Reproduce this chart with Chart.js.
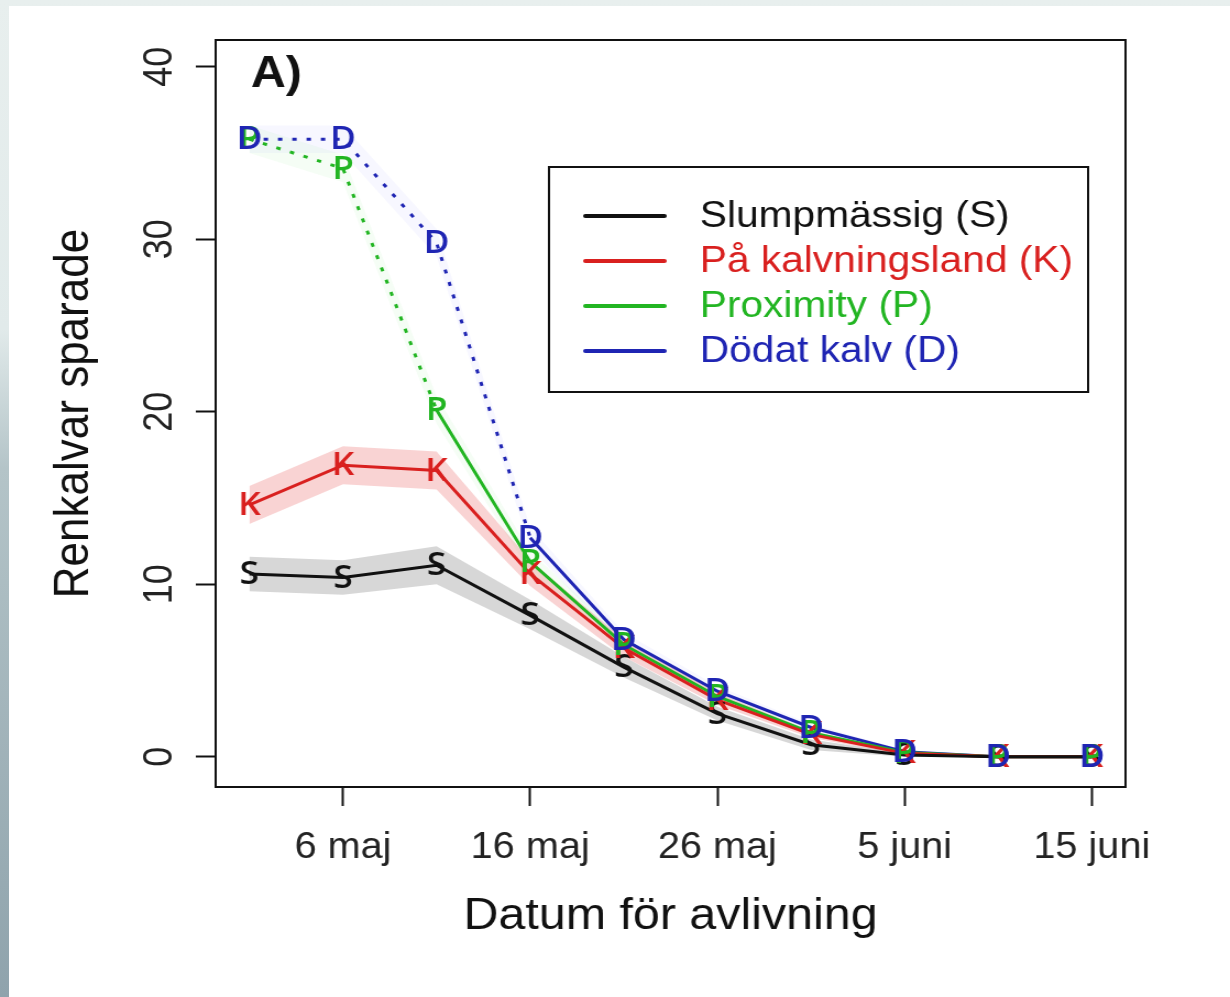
<!DOCTYPE html>
<html>
<head>
<meta charset="utf-8">
<script src="https://cdn.jsdelivr.net/npm/chart.js@4.4.1/dist/chart.umd.min.js"></script>
<style>
  html, body { margin: 0; padding: 0; width: 1230px; height: 997px; overflow: hidden; }
  body { background: linear-gradient(180deg, #e8efee 0%, #e1eaea 33%, #b4c4c8 47%, #8fa3ac 100%); }
  #paper { position: absolute; left: 9px; top: 6px; width: 1221px; height: 991px; background: #fff; }
  #chart { position: absolute; left: 0; top: 0; transform: scaleX(1.1002); transform-origin: 0 0; }
</style>
</head>
<body>
<div id="paper"></div>
<canvas id="chart" width="1118" height="997"></canvas>
<script>
// dagar efter 1 maj
const dayNums = [0, 5, 10, 15, 20, 25, 30, 35, 40, 45];
const xTickValues = [5, 15, 25, 35, 45];
const xTickLabels = ["6 maj", "16 maj", "26 maj", "5 juni", "15 juni"];
const yTickValues = [0, 10, 20, 30, 40];

// Slumpmässig (S)
const slump   = [10.6, 10.4, 11.1, 8.2, 5.2, 2.5, 0.7, 0.1, 0, 0];
const slumpLo = [9.6, 9.4, 10.0, 7.4, 4.6, 2.1, 0.4, 0, 0, 0];
const slumpHi = [11.6, 11.4, 12.2, 9.1, 5.8, 2.9, 1.0, 0.2, 0, 0];
// På kalvningsland (K)
const kalv   = [14.6, 16.9, 16.6, 10.6, 6.3, 3.3, 1.3, 0.2, 0, 0];
const kalvLo = [13.5, 15.8, 15.5, 9.9, 5.8, 3.0, 1.1, 0.1, 0, 0];
const kalvHi = [15.7, 18.0, 17.7, 11.4, 6.8, 3.7, 1.5, 0.3, 0, 0];
// Proximity (P)
const prox   = [35.8, 34.1, 20.1, 11.3, 6.5, 3.5, 1.4, 0.25, 0, 0];
const proxLo = [35.0, 33.3, 19.3, 10.7, 6.1, 3.2, 1.2, 0.15, 0, 0];
const proxHi = [36.6, 34.9, 20.9, 11.9, 6.9, 3.8, 1.6, 0.35, 0, 0];
// Dödat kalv (D)
const dodat   = [35.8, 35.8, 29.8, 12.7, 6.8, 3.8, 1.7, 0.3, 0, 0];
const dodatLo = [35.0, 35.0, 29.0, 12.1, 6.4, 3.5, 1.5, 0.2, 0, 0];
const dodatHi = [36.6, 36.6, 30.6, 13.3, 7.2, 4.1, 1.9, 0.4, 0, 0];

const seriesNames = ["Slumpmässig (S)", "På kalvningsland (K)", "Proximity (P)", "Dödat kalv (D)"];
const seriesLetters = ["S", "K", "P", "D"];
const seriesColors = ["#111111", "#d9201f", "#22b522", "#1f25b3"];
const bandColors = ["rgba(150,150,150,0.38)", "rgba(235,110,110,0.30)", "rgba(120,220,120,0.07)", "rgba(120,120,255,0.06)"];
const dottedSegs = [0, 0, 2, 3];  // antal prickade segment i början

const values = [slump, kalv, prox, dodat];
const lows = [slumpLo, kalvLo, proxLo, dodatLo];
const highs = [slumpHi, kalvHi, proxHi, dodatHi];

function pts(arr) {
  return arr.map((v, i) => ({ x: dayNums[i], y: v }));
}

const datasets = [];
values.forEach((vals, s) => {
  datasets.push({ data: pts(lows[s]), borderWidth: 0, pointRadius: 0, fill: false, order: 5 });
  datasets.push({ data: pts(highs[s]), borderWidth: 0, pointRadius: 0, fill: "-1", backgroundColor: bandColors[s], order: 5 });
});
values.forEach((vals, s) => {
  const n = dottedSegs[s];
  datasets.push({
    label: seriesNames[s],
    letter: seriesLetters[s],
    data: pts(vals),
    borderColor: seriesColors[s],
    borderWidth: 3,
    pointRadius: 0,
    tension: 0,
    fill: false,
    order: 1,
    segment: { borderDash: c => (c.p0DataIndex < n ? [4, 9] : undefined) }
  });
});

const FONT = "'Liberation Sans', Arial, sans-serif";

const rPlot = {
  id: "rPlot",
  afterDraw(chart) {
    const ctx = chart.ctx;
    const a = chart.chartArea;
    ctx.save();
    // bokstäver vid punkterna
    ctx.font = "600 32px 'Open Sans', sans-serif";
    ctx.textAlign = "center";
    ctx.textBaseline = "middle";
    chart.data.datasets.forEach((ds, i) => {
      if (!ds.letter) return;
      ctx.fillStyle = ds.borderColor;
      chart.getDatasetMeta(i).data.forEach(p => ctx.fillText(ds.letter, p.x, p.y + 1));
    });
    // ram
    ctx.strokeStyle = "#111";
    ctx.lineWidth = 2;
    ctx.strokeRect(a.left, a.top, a.right - a.left, a.bottom - a.top);
    // panel-etikett
    ctx.fillStyle = "#111";
    ctx.font = "bold 44px " + FONT;
    ctx.textAlign = "left";
    ctx.textBaseline = "alphabetic";
    ctx.fillText("A)", 228, 87);
    // förklaring
    const bx = 499, by = 167, bw = 490, bh = 225;
    ctx.strokeRect(bx, by, bw, bh);
    ctx.font = "37px " + FONT;
    ctx.textBaseline = "middle";
    const lines = chart.data.datasets.filter(d => d.letter);
    lines.forEach((ds, k) => {
      const y = 216 + k * 45;
      ctx.strokeStyle = ds.borderColor;
      ctx.lineWidth = 4;
      ctx.lineCap = "round";
      ctx.beginPath();
      ctx.moveTo(532, y);
      ctx.lineTo(604, y);
      ctx.stroke();
      ctx.fillStyle = ds.borderColor;
      ctx.fillText(ds.label, 636, y + 1);
    });
    ctx.restore();
  }
};

new Chart(document.getElementById("chart"), {
  type: "line",
  data: { datasets },
  options: {
    responsive: false,
    devicePixelRatio: 1,
    animation: false,
    events: [],
    layout: { padding: { left: 0, right: 95, top: 40, bottom: 50 } },
    plugins: { legend: { display: false }, tooltip: { enabled: false } },
    scales: {
      x: {
        type: "linear",
        min: -1.8,
        max: 46.8,
        afterBuildTicks: s => { s.ticks = xTickValues.map(v => ({ value: v })); },
        afterFit: s => { s.height = 160; },
        border: { display: false },
        grid: { drawOnChartArea: false, drawTicks: true, tickLength: 19, tickColor: "#111", tickWidth: 2 },
        ticks: {
          autoSkip: false, maxRotation: 0, padding: 20, color: "#222",
          font: { family: FONT, size: 36 },
          callback: v => xTickLabels[xTickValues.indexOf(v)]
        },
        title: { display: true, text: "Datum för avlivning", color: "#111", font: { family: FONT, size: 44 }, padding: { top: 0, bottom: 4 } }
      },
      y: {
        type: "linear",
        min: -1.75,
        max: 41.55,
        afterBuildTicks: s => { s.ticks = yTickValues.map(v => ({ value: v })); },
        afterFit: s => { s.width = 196; },
        border: { display: false },
        grid: { drawOnChartArea: false, drawTicks: true, tickLength: 18, tickColor: "#111", tickWidth: 2 },
        ticks: {
          minRotation: 90, maxRotation: 90, crossAlign: "center", padding: 12, color: "#222",
          font: { family: FONT, size: 36 }
        },
        title: { display: true, text: "Renkalvar sparade", color: "#111", font: { family: FONT, size: 44 }, padding: { top: 41, bottom: 0 } }
      }
    }
  },
  plugins: [rPlot]
});
</script>
</body>
</html>
